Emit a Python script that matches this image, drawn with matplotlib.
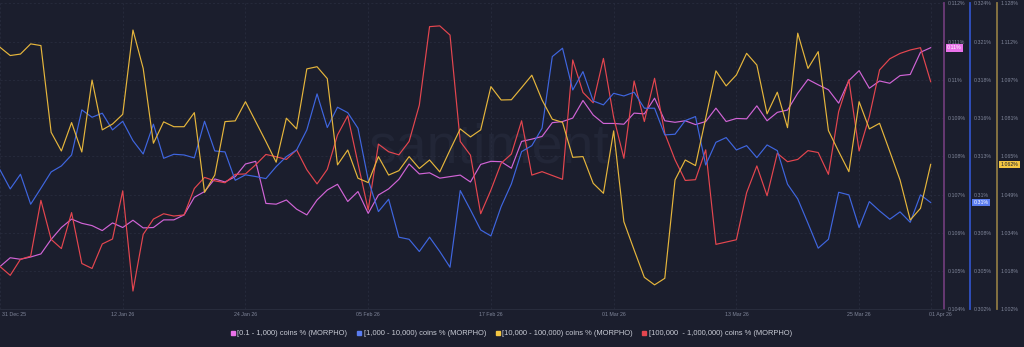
import datetime as dt
import matplotlib
matplotlib.use("Agg")
import matplotlib.pyplot as plt
import matplotlib.dates as mdates
from matplotlib.lines import Line2D
from matplotlib.ticker import FixedLocator, FixedFormatter
from matplotlib.transforms import ScaledTranslation

plt.rcParams['font.family'] = ['Liberation Sans', 'DejaVu Sans']

# ---------------- data ----------------
start = dt.date(2025, 12, 31)
dates = [start + dt.timedelta(days=i) for i in range(92)]

pink = [0.10512, 0.10535, 0.10531, 0.10537, 0.10545, 0.10583, 0.10614, 0.10636, 0.10625, 0.10619,
        0.10606, 0.10626, 0.10614, 0.10633, 0.10613, 0.10614, 0.10634, 0.10634, 0.10647, 0.10693,
        0.10708, 0.10741, 0.10733, 0.10747, 0.10780, 0.10787, 0.10677, 0.10675, 0.10686, 0.10662,
        0.10647, 0.10686, 0.10712, 0.10727, 0.10682, 0.10708, 0.10651, 0.10699, 0.10715, 0.10740,
        0.10780, 0.10754, 0.10757, 0.10743, 0.10747, 0.10751, 0.10733, 0.10779, 0.10787, 0.10786,
        0.10769, 0.10839, 0.10845, 0.10852, 0.10888, 0.10891, 0.10900, 0.10946, 0.10908, 0.10886,
        0.10886, 0.10884, 0.10913, 0.10911, 0.10952, 0.10893, 0.10889, 0.10893, 0.10883, 0.10891,
        0.10926, 0.10891, 0.10899, 0.10898, 0.10932, 0.10893, 0.10915, 0.10921, 0.10965, 0.11001,
        0.10987, 0.10974, 0.10939, 0.10998, 0.11024, 0.10978, 0.10997, 0.10991, 0.11011, 0.11014,
        0.11072, 0.11084]

blue = [0.31203, 0.31066, 0.31171, 0.30956, 0.31071, 0.31188, 0.31231, 0.31310, 0.31634, 0.31581,
        0.31610, 0.31490, 0.31552, 0.31413, 0.31317, 0.31531, 0.31286, 0.31315, 0.31310, 0.31289,
        0.31552, 0.31339, 0.31332, 0.31128, 0.31167, 0.31155, 0.31140, 0.31226, 0.31298, 0.31346,
        0.31490, 0.31749, 0.31507, 0.31653, 0.31614, 0.31502, 0.31131, 0.30903, 0.30992, 0.30719,
        0.30704, 0.30616, 0.30719, 0.30616, 0.30503, 0.31054, 0.30915, 0.30771, 0.30728, 0.30939,
        0.31102, 0.31334, 0.31377, 0.31502, 0.32017, 0.32077, 0.31777, 0.31909, 0.31698, 0.31670,
        0.31753, 0.31734, 0.31761, 0.31646, 0.31646, 0.31454, 0.31459, 0.31557, 0.31586, 0.31238,
        0.31401, 0.31435, 0.31346, 0.31377, 0.31291, 0.31382, 0.31341, 0.31100, 0.30994, 0.30819,
        0.30640, 0.30704, 0.31042, 0.31023, 0.30788, 0.30975, 0.30908, 0.30848, 0.30901, 0.30826,
        0.31023, 0.30968]

yellow = [1.1099, 1.1065, 1.1071, 1.1113, 1.1106, 1.0749, 1.0672, 1.0789, 1.0668, 1.0964,
          1.0759, 1.0783, 1.0823, 1.1170, 1.1012, 1.0704, 1.0792, 1.0772, 1.0772, 1.0830,
          1.0502, 1.0573, 1.0793, 1.0796, 1.0875, 1.0793, 1.0711, 1.0626, 1.0807, 1.0763,
          1.1010, 1.1019, 1.0970, 1.0615, 1.0676, 1.0560, 1.0542, 1.0649, 1.0573, 1.0591,
          1.0649, 1.0600, 1.0635, 1.0586, 1.0676, 1.0763, 1.0730, 1.0759, 1.0937, 1.0882,
          1.0883, 1.0933, 1.0984, 1.0882, 1.0803, 1.0790, 1.0646, 1.0649, 1.0539, 1.0498,
          1.0755, 1.0381, 1.0265, 1.0152, 1.0121, 1.0148, 1.0553, 1.0635, 1.0612, 1.0807,
          1.1002, 1.0940, 1.0985, 1.1074, 1.1026, 1.0825, 1.0914, 1.0768, 1.1157, 1.1012,
          1.1081, 1.0756, 1.0670, 1.0587, 1.0875, 1.0763, 1.0786, 1.0670, 1.0553, 1.0388,
          1.0436, 1.0617]

red = [0.10512, 0.10489, 0.10531, 0.10539, 0.10685, 0.10583, 0.10559, 0.10653, 0.10520, 0.10507,
       0.10571, 0.10584, 0.10710, 0.10448, 0.10596, 0.10636, 0.10650, 0.10644, 0.10647, 0.10716,
       0.10745, 0.10736, 0.10731, 0.10753, 0.10754, 0.10778, 0.10805, 0.10799, 0.10792, 0.10817,
       0.10765, 0.10728, 0.10766, 0.10856, 0.10906, 0.10782, 0.10660, 0.10832, 0.10812, 0.10804,
       0.10839, 0.10934, 0.11139, 0.11141, 0.11117, 0.10839, 0.10803, 0.10650, 0.10712, 0.10782,
       0.10806, 0.10893, 0.10751, 0.10760, 0.10750, 0.10740, 0.11052, 0.10967, 0.10940, 0.11056,
       0.10902, 0.10795, 0.10997, 0.10891, 0.11004, 0.10860, 0.10791, 0.10737, 0.10739, 0.10817,
       0.10570, 0.10576, 0.10582, 0.10705, 0.10775, 0.10697, 0.10808, 0.10786, 0.10792, 0.10815,
       0.10810, 0.10753, 0.10917, 0.11000, 0.10814, 0.10904, 0.11026, 0.11055, 0.11069, 0.11078,
       0.11084, 0.10995]

series_labels = ['[0.1 - 1,000) coins % (MORPHO)', '[1,000 - 10,000) coins % (MORPHO)',
                 '[10,000 - 100,000) coins % (MORPHO)', '[100,000  - 1,000,000) coins % (MORPHO)']

pink_ticks = [0.104, 0.105, 0.106, 0.107, 0.108, 0.109, 0.110, 0.111, 0.112]
pink_tick_labels = ['0.104%', '0.105%', '0.106%', '0.107%', '0.108%', '0.109%', '0.11%', '0.111%', '0.112%']
blue_ticks = [0.302, 0.30475, 0.3075, 0.31025, 0.313, 0.31575, 0.3185, 0.32125, 0.324]
blue_tick_labels = ['0.302%', '0.305%', '0.308%', '0.31%', '0.313%', '0.316%', '0.318%', '0.321%', '0.324%']
yellow_ticks = [1.002, 1.01775, 1.0335, 1.04925, 1.065, 1.08075, 1.0965, 1.11225, 1.128]
yellow_tick_labels = ['1.002%', '1.018%', '1.034%', '1.049%', '1.065%', '1.081%', '1.097%', '1.112%', '1.128%']

date_ticks = [dt.date(2025, 12, 31), dt.date(2026, 1, 12), dt.date(2026, 1, 24), dt.date(2026, 2, 5),
              dt.date(2026, 2, 17), dt.date(2026, 3, 1), dt.date(2026, 3, 13), dt.date(2026, 3, 25),
              dt.date(2026, 4, 1)]
date_tick_labels = ['31 Dec 25', '12 Jan 26', '24 Jan 26', '05 Feb 26', '17 Feb 26', '01 Mar 26',
                    '13 Mar 26', '25 Mar 26', '01 Apr 26']

tag_labels = ['0.11%', '0.31%', '1.062%']

# ---------------- style ----------------
BG = '#1b1e2d'
GRID = '#2a2e40'
TICK = '#80869a'
LEGTXT = '#c9ccd6'
PINK = '#d164d6'
BLUE = '#3f66e0'
YELLOW = '#e6b63c'
RED = '#e5464f'
PINK_SP = '#6c3b78'
BLUE_SP = '#3152c4'
YEL_SP = '#8c7843'
TAG_PINK = '#ea72ea'
TAG_BLUE = '#5a7cf0'
TAG_YEL = '#f3c642'

W, H = 1024, 347
fig = plt.figure(figsize=(W / 100, H / 100), dpi=100, facecolor=BG)
ax_l, ax_r, ax_t, ax_b_px = 0, 944, 3.3, 309.4
ax = fig.add_axes([ax_l / W, 1 - ax_b_px / H, (ax_r - ax_l) / W, (ax_b_px - ax_t) / H])
ax.set_facecolor(BG)

x0 = mdates.date2num(start)
ax.set_xlim(x0, x0 + 92.3)

# watermark
ax.text(489 / 944, 0.527, 'santiment', transform=ax.transAxes, ha='center', va='center',
        fontsize=40, color='#222637', zorder=0)

ax.plot(dates, pink, color=PINK, lw=0.85, zorder=3)
ax.plot(dates, red, color=RED, lw=0.85, zorder=3)

ax.set_ylim(pink_ticks[0], pink_ticks[-1])
ax.yaxis.set_major_locator(FixedLocator(pink_ticks))
ax.yaxis.set_major_formatter(FixedFormatter(pink_tick_labels))

ax.set_xticks(mdates.date2num(date_ticks))
ax.set_xticklabels(date_tick_labels)
ax.tick_params(axis='x', length=0, pad=2.2, labelsize=3.8, labelcolor=TICK)

ax.grid(True, color=GRID, linestyle=(0, (3, 3)), linewidth=0.5)
ax.set_axisbelow(True)

for s in ['top', 'left']:
    ax.spines[s].set_visible(False)
ax.spines['right'].set_color(PINK_SP)
ax.spines['right'].set_linewidth(1.3)
ax.spines['bottom'].set_color('#2b2f40')
ax.spines['bottom'].set_linewidth(0.6)


def make_twin(pos, spcolor, ticks, labels, lo, hi):
    t = ax.twinx()
    t.patch.set_visible(False)
    t.spines['right'].set_position(('axes', pos))
    for s in ['top', 'left', 'bottom']:
        t.spines[s].set_visible(False)
    t.spines['right'].set_color(spcolor)
    t.spines['right'].set_linewidth(1.3)
    t.set_ylim(lo, hi)
    t.yaxis.set_major_locator(FixedLocator(ticks))
    t.yaxis.set_major_formatter(FixedFormatter(labels))
    t.tick_params(axis='y', length=0, pad=2.5, labelsize=3.8, labelcolor=TICK)
    return t


pos_b = 970.3 / 944
pos_y = 997.3 / 944
axb = make_twin(pos_b, BLUE_SP, blue_ticks, blue_tick_labels, blue_ticks[0], blue_ticks[-1])
axy = make_twin(pos_y, YEL_SP, yellow_ticks, yellow_tick_labels, yellow_ticks[0], yellow_ticks[-1])

# twinx moves the host's ticks to the left: put them back on the right
ax.yaxis.tick_right()
ax.tick_params(axis='y', which='both', left=False, labelleft=False, right=True, labelright=True,
               length=0, pad=2.5, labelsize=3.8, labelcolor=TICK)

xl = ax.get_xticklabels()
xl[0].set_horizontalalignment('left')
xl[0].set_transform(xl[0].get_transform() + ScaledTranslation(2.5 / 100, 0, fig.dpi_scale_trans))
xl[-1].set_transform(xl[-1].get_transform() + ScaledTranslation(10 / 100, 0, fig.dpi_scale_trans))

axb.plot(dates, blue, color=BLUE, lw=0.85, zorder=3)
axy.plot(dates, yellow, color=YELLOW, lw=0.85, zorder=3)


def tag(a, xpos, yval, text, fc, tc):
    a.annotate(text, xy=(xpos, yval), xycoords=('axes fraction', 'data'),
               xytext=(2.2, 0), textcoords='offset points', ha='left', va='center',
               fontsize=3.8, color=tc, annotation_clip=False,
               bbox=dict(boxstyle='square,pad=0.25', fc=fc, ec='none'), zorder=10)


tag(ax, 1.0, pink[-1], tag_labels[0], TAG_PINK, 'white')
tag(axb, pos_b, blue[-1], tag_labels[1], TAG_BLUE, 'white')
tag(axy, pos_y, yellow[-1], tag_labels[2], TAG_YEL, '#1b1e2d')

handles = [Line2D([], [], marker='s', ls='none', color=c, markersize=2.6)
           for c in [TAG_PINK, TAG_BLUE, TAG_YEL, RED]]
fig.legend(handles, series_labels, loc='center', bbox_to_anchor=(511.5 / W, 1 - 333.7 / H),
           ncol=4, frameon=False, fontsize=5.4, handlelength=0.5, handletextpad=0.35,
           columnspacing=1.3, labelcolor=LEGTXT)

fig.savefig('out.png', dpi=100, facecolor=BG)
